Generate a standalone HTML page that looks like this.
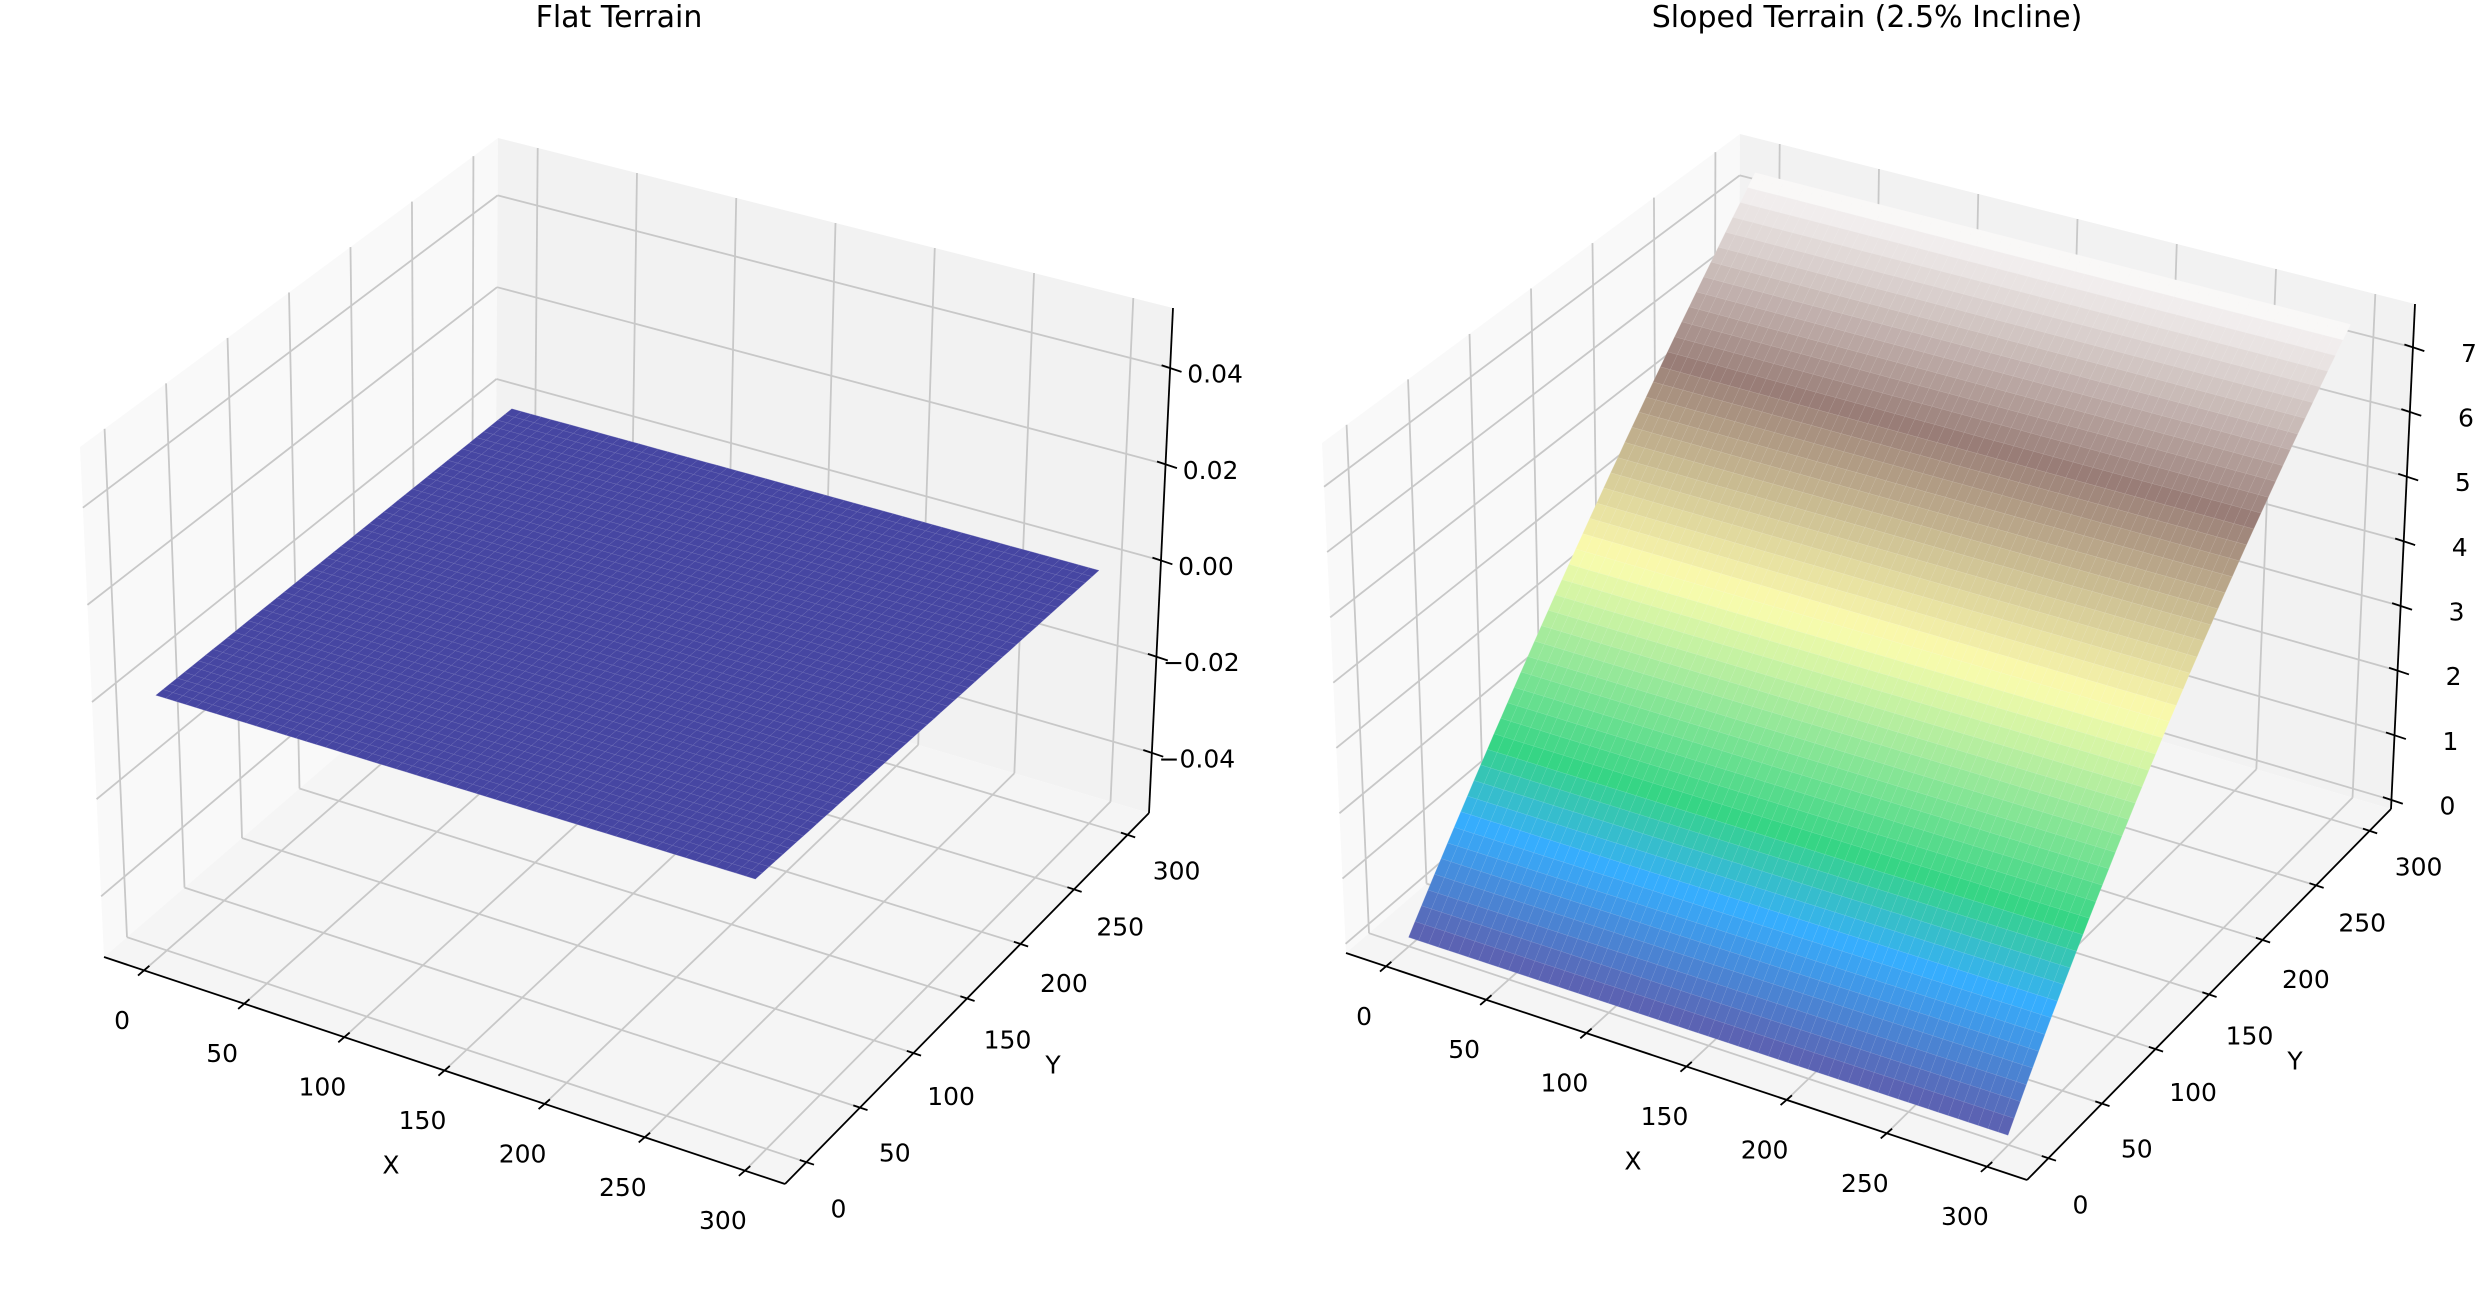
<!DOCTYPE html>
<html><head><meta charset="utf-8">
<style>
html,body{margin:0;padding:0;background:#fff;}
svg{display:block;font-family:"DejaVu Sans","Liberation Sans",sans-serif;}
</style></head>
<body>
<svg id="fig" width="2490" height="1300" viewBox="0 0 2490 1300" xmlns="http://www.w3.org/2000/svg">
<rect x="0" y="0" width="2490" height="1300" fill="#ffffff"/>
<text x="619" y="27" font-size="30" text-anchor="middle">Flat Terrain</text>
<text x="1867" y="27" font-size="30" text-anchor="middle">Sloped Terrain (2.5% Incline)</text>
<g id="left"></g>
<g id="right"></g>
</svg>
<script>
// ---- data ----
const gridX = [0,5,10,15,20,25,30,35,40,45,50,55,60,65,70,75,80,85,90,95,100,105,110,115,120,125,130,135,140,145,150,155,160,165,170,175,180,185,190,195,200,205,210,215,220,225,230,235,240,245,250,255,260,265,270,275,280,285,290,295,300];
const gridY = [0,6,12,18,24,30,36,42,48,54,60,66,72,78,84,90,96,102,108,114,120,126,132,138,144,150,156,162,168,174,180,186,192,198,204,210,216,222,228,234,240,246,252,258,264,270,276,282,288,294,300];
// elevation of each row of the sloped terrain (2.5% incline along Y)
const slopedRowZ = [0,0.15,0.3,0.45,0.6,0.75,0.9,1.05,1.2,1.35,1.5,1.65,1.8,1.95,2.1,2.25,2.4,2.55,2.7,2.85,3.0,3.15,3.3,3.45,3.6,3.75,3.9,4.05,4.2,4.35,4.5,4.65,4.8,4.95,5.1,5.25,5.4,5.55,5.7,5.85,6.0,6.15,6.3,6.45,6.6,6.75,6.9,7.05,7.2,7.35,7.5];
const flatRowZ = gridY.map(()=>0);
const xTicks = [0,50,100,150,200,250,300];
const yTicks = [0,50,100,150,200,250,300];
const zTicksFlat = [-0.04,-0.02,0.00,0.02,0.04];
const zTickLabelsFlat = ["\u22120.04","\u22120.02","0.00","0.02","0.04"];
const zTicksSloped = [0,1,2,3,4,5,6,7];
const zTickLabelsSloped = ["0","1","2","3","4","5","6","7"];

const NS = "http://www.w3.org/2000/svg";
function mk(tag, attrs, parent){
  const e = document.createElementNS(NS, tag);
  for (const k in attrs) e.setAttribute(k, attrs[k]);
  parent.appendChild(e); return e;
}
const TER = [[0,[0.2,0.2,0.6]],[0.15,[0,0.6,1]],[0.25,[0,0.8,0.4]],[0.5,[1,1,0.6]],[0.75,[0.5,0.36,0.33]],[1,[1,1,1]]];
function terrain(t){
  t=Math.max(0,Math.min(1,t));
  for(let i=0;i<TER.length-1;i++){
    const [a,ca]=TER[i],[b,cb]=TER[i+1];
    if(t<=b){const f=(t-a)/(b-a);return ca.map((v,k)=>v+(cb[k]-v)*f);}
  }
  return TER[TER.length-1][1];
}
function rgb(c){return "rgb("+c.map(v=>Math.round(Math.min(1,v)*255)).join(",")+")";}

function buildAxes(g, off, zlim, zTicks, zLabels, rowZ, zDataMin, zDataMax, zLabelOff, alpha){
  const xlim=[-20,320], ylim=[-20,320];
  const C = {
    F00:[104,957],F10:[785,1184],F11:[1149,813],F01:[495,620],
    T00:[80,447],T10:[760,640],T11:[1173,308],T01:[498,138]};
  function P(x,y,z){
    const u=(x-xlim[0])/(xlim[1]-xlim[0]), v=(y-ylim[0])/(ylim[1]-ylim[0]), w=(z-zlim[0])/(zlim[1]-zlim[0]);
    const out=[0,0];
    for(let k=0;k<2;k++){
      const f=C.F00[k]*(1-u)*(1-v)+C.F10[k]*u*(1-v)+C.F11[k]*u*v+C.F01[k]*(1-u)*v;
      const t=C.T00[k]*(1-u)*(1-v)+C.T10[k]*u*(1-v)+C.T11[k]*u*v+C.T01[k]*(1-u)*v;
      out[k]=f+(t-f)*w+off[k];
    }
    return out;
  }
  const pts=a=>a.map(p=>p[0].toFixed(1)+","+p[1].toFixed(1)).join(" ");
  const [x0,x1]=xlim,[y0,y1]=ylim,[z0,z1]=zlim;
  let p=mk("polygon",{points:pts([P(x0,y0,z0),P(x0,y1,z0),P(x0,y1,z1),P(x0,y0,z1)]),fill:"#f9f9f9"},g);
   
  p=mk("polygon",{points:pts([P(x0,y1,z0),P(x1,y1,z0),P(x1,y1,z1),P(x0,y1,z1)]),fill:"#f2f2f2"},g);
   
  p=mk("polygon",{points:pts([P(x0,y0,z0),P(x1,y0,z0),P(x1,y1,z0),P(x0,y1,z0)]),fill:"#f5f5f5"},g);
   
  const gl={stroke:"#c8c8c8","stroke-width":1.8,fill:"none"};
  function line(a,b,attrs,name){const l=mk("line",Object.assign({x1:a[0],y1:a[1],x2:b[0],y2:b[1]},attrs),g);
      return l;}
  xTicks.forEach(t=>{line(P(t,y0,z0),P(t,y1,z0),gl,'x-gridline');line(P(t,y1,z0),P(t,y1,z1),gl,'x-gridline');});
  yTicks.forEach(t=>{line(P(x0,t,z0),P(x1,t,z0),gl,'y-gridline');line(P(x0,t,z0),P(x0,t,z1),gl,'y-gridline');});
  zTicks.forEach(t=>{line(P(x0,y0,t),P(x0,y1,t),gl,'z-gridline');line(P(x0,y1,t),P(x1,y1,t),gl,'z-gridline');});
  const sg=mk("g",{},g);
   
  for(let j=gridY.length-2;j>=0;j--){
    const zc=(rowZ[j]+rowZ[j+1])/2;
    const tn = zDataMax>zDataMin ? (zc-zDataMin)/(zDataMax-zDataMin) : 0;
    const c=terrain(tn);
    const col=rgb(c.map(v=>v*alpha+0.96*(1-alpha)));
    const edge=rgb(c.map(v=>(v*alpha+0.96*(1-alpha))*0.75+0.25));
    for(let i=0;i<gridX.length-1;i++){
      const q=mk("polygon",{points:pts([P(gridX[i],gridY[j],rowZ[j]),P(gridX[i+1],gridY[j],rowZ[j]),P(gridX[i+1],gridY[j+1],rowZ[j+1]),P(gridX[i],gridY[j+1],rowZ[j+1])]),fill:col,stroke:edge,"stroke-width":0.5,"stroke-opacity":0.6},sg);
       
    }
  }
  const ax={stroke:"#000","stroke-width":1.8};
  line(P(x0,y0,z0),P(x1,y0,z0),ax,'x-axis-line');
  line(P(x1,y0,z0),P(x1,y1,z0),ax,'y-axis-line');
  line(P(x1,y1,z0),P(x1,y1,z1),ax,'z-axis-line');
  function unit(a,b){const dx=b[0]-a[0],dy=b[1]-a[1],L=Math.hypot(dx,dy);return [dx/L,dy/L];}
  const dY=unit(P(x0,y0,z0),P(x0,y1,z0)), dX=unit(P(x0,y0,z0),P(x1,y0,z0));
  function label(x,y,s,name){const t=mk("text",{x:x.toFixed(1),y:y.toFixed(1),"font-size":25,"text-anchor":"middle","dominant-baseline":"central"},g);
    t.textContent=s;   return t;}
  xTicks.forEach((t,i)=>{const q=P(t,y0,z0);
    line([q[0]-dY[0]*8,q[1]-dY[1]*8],[q[0]+dY[0]*7,q[1]+dY[1]*7],ax,'x-tick');
    label(q[0]-22,q[1]+50,String(t),'x-tick-label');});
  yTicks.forEach((t,i)=>{const q=P(x1,t,z0);const f=i/(yTicks.length-1);
    line([q[0]-dX[0]*7,q[1]-dX[1]*7],[q[0]+dX[0]*8,q[1]+dX[1]*8],ax,'y-tick');
    label(q[0]+32+17*f,q[1]+47-11*f,String(t),'y-tick-label');});
  zTicks.forEach((t,i)=>{const q=P(x1,y1,t);
    line([q[0]-dX[0]*9,q[1]-dX[1]*9],[q[0]+dX[0]*12,q[1]+dX[1]*12],ax,'z-tick');
    label(q[0]+zLabelOff,q[1]+6,zLabels[i],'z-tick-label');});
  label(391+off[0],1165+off[1],"X",'x-axis-title');
  label(1053+off[0],1065+off[1],"Y",'y-axis-title');
}
buildAxes(document.getElementById('left'),[0,0],[-0.0525,0.0525],zTicksFlat,zTickLabelsFlat,flatRowZ,0,0,45,0.9);
buildAxes(document.getElementById('right'),[1242,-4],[-0.14,7.67],zTicksSloped,zTickLabelsSloped,slopedRowZ,0,7.5,56,0.78);
</script>
</body></html>
